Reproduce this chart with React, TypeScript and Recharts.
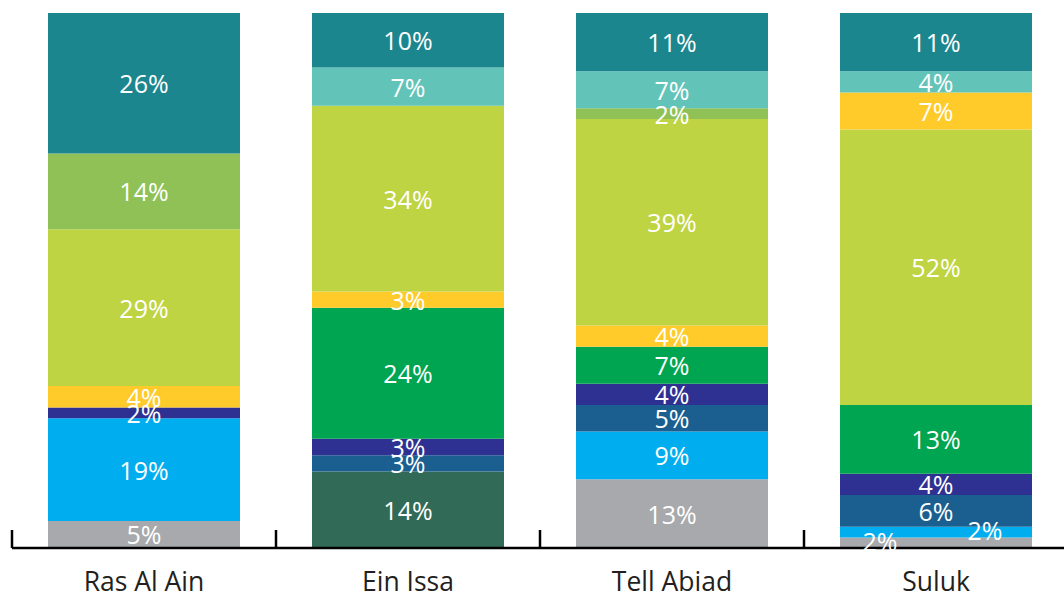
import { Bar, BarChart, LabelList, XAxis, YAxis } from 'recharts';

document.body.style.margin = '0';

const regions = ['Ras Al Ain', 'Ein Issa', 'Tell Abiad', 'Suluk'];

// shares per region, bottom segment first
const grey = [5, 0, 13, 2];
const darkGreen = [0, 14, 0, 0];
const lightBlue = [19, 0, 9, 2];
const darkBlue = [0, 3, 5, 6];
const indigo = [2, 3, 4, 4];
const green = [0, 24, 7, 13];
const yellow = [4, 3, 4, 0];
const lime = [29, 34, 39, 52];
const olive = [14, 0, 2, 0];
const yellowTop = [0, 0, 0, 7];
const tealLight = [0, 7, 7, 4];
const teal = [26, 10, 11, 11];

const series = [
  { key: 'grey', values: grey, color: '#A7A9AC' },
  { key: 'darkGreen', values: darkGreen, color: '#316B57' },
  { key: 'lightBlue', values: lightBlue, color: '#00AEEF' },
  { key: 'darkBlue', values: darkBlue, color: '#1A5F8F' },
  { key: 'indigo', values: indigo, color: '#2E3192' },
  { key: 'green', values: green, color: '#00A551' },
  { key: 'yellow', values: yellow, color: '#FFCB2B' },
  { key: 'lime', values: lime, color: '#BFD443' },
  { key: 'olive', values: olive, color: '#8FC156' },
  { key: 'yellowTop', values: yellowTop, color: '#FFCB2B' },
  { key: 'tealLight', values: tealLight, color: '#62C4B8' },
  { key: 'teal', values: teal, color: '#1C868E' },
];

const data = regions.map((name, i) => {
  const row: Record<string, string | number> = { name };
  series.forEach((s) => {
    row[s.key] = s.values[i];
  });
  return row;
});

const W = 1064;
const H = 597;
const margin = { top: 13, right: -4, bottom: 0, left: 12 };
const band = (W - margin.left - margin.right) / regions.length;
const font = '"Open Sans", sans-serif';

// small segments in Suluk get their labels pushed aside
const nudges: Record<string, { dx: number; dy: number }> = {
  'grey-Suluk': { dx: -56, dy: -2 },
  'lightBlue-Suluk': { dx: 49, dy: -2 },
};

const makeLabel = (key: string) => (props: any) => {
  const { x, y, width, height, value } = props;
  if (!value) return null;
  const idx = Math.floor((x + width / 2 - margin.left) / band);
  const n = nudges[`${key}-${regions[idx]}`] || { dx: 0, dy: 0 };
  return (
    <text
      x={x + width / 2 + n.dx}
      y={y + height / 2 + n.dy}
      dy={10}
      textAnchor="middle"
      fill="#fff"
      fontSize={25}
      fontFamily={font}
    >
      {value}%
    </text>
  );
};

const AxisTick = (props: any) => {
  const { x, y, payload } = props;
  return (
    <g>
      <line x1={x - band / 2} x2={x - band / 2} y1={y - 18} y2={y} stroke="#000" strokeWidth={2.5} />
      <text x={x} y={y} dy={43} textAnchor="middle" fill="#231F20" fontSize={26.5} fontFamily={font}>
        {payload.value}
      </text>
    </g>
  );
};

export default function App() {
  return (
    <BarChart width={W} height={H} data={data} margin={margin} stackOffset="expand">
      <YAxis hide />
      {series.map((s) => (
        <Bar key={s.key} dataKey={s.key} stackId="a" fill={s.color} barSize={192} isAnimationActive={false}>
          <LabelList dataKey={s.key} content={makeLabel(s.key)} />
        </Bar>
      ))}
      <XAxis
        dataKey="name"
        height={49}
        tickSize={0}
        tickMargin={0}
        tickLine={false}
        axisLine={{ stroke: '#000', strokeWidth: 2.5 }}
        tick={<AxisTick />}
        interval={0}
      />
    </BarChart>
  );
}
